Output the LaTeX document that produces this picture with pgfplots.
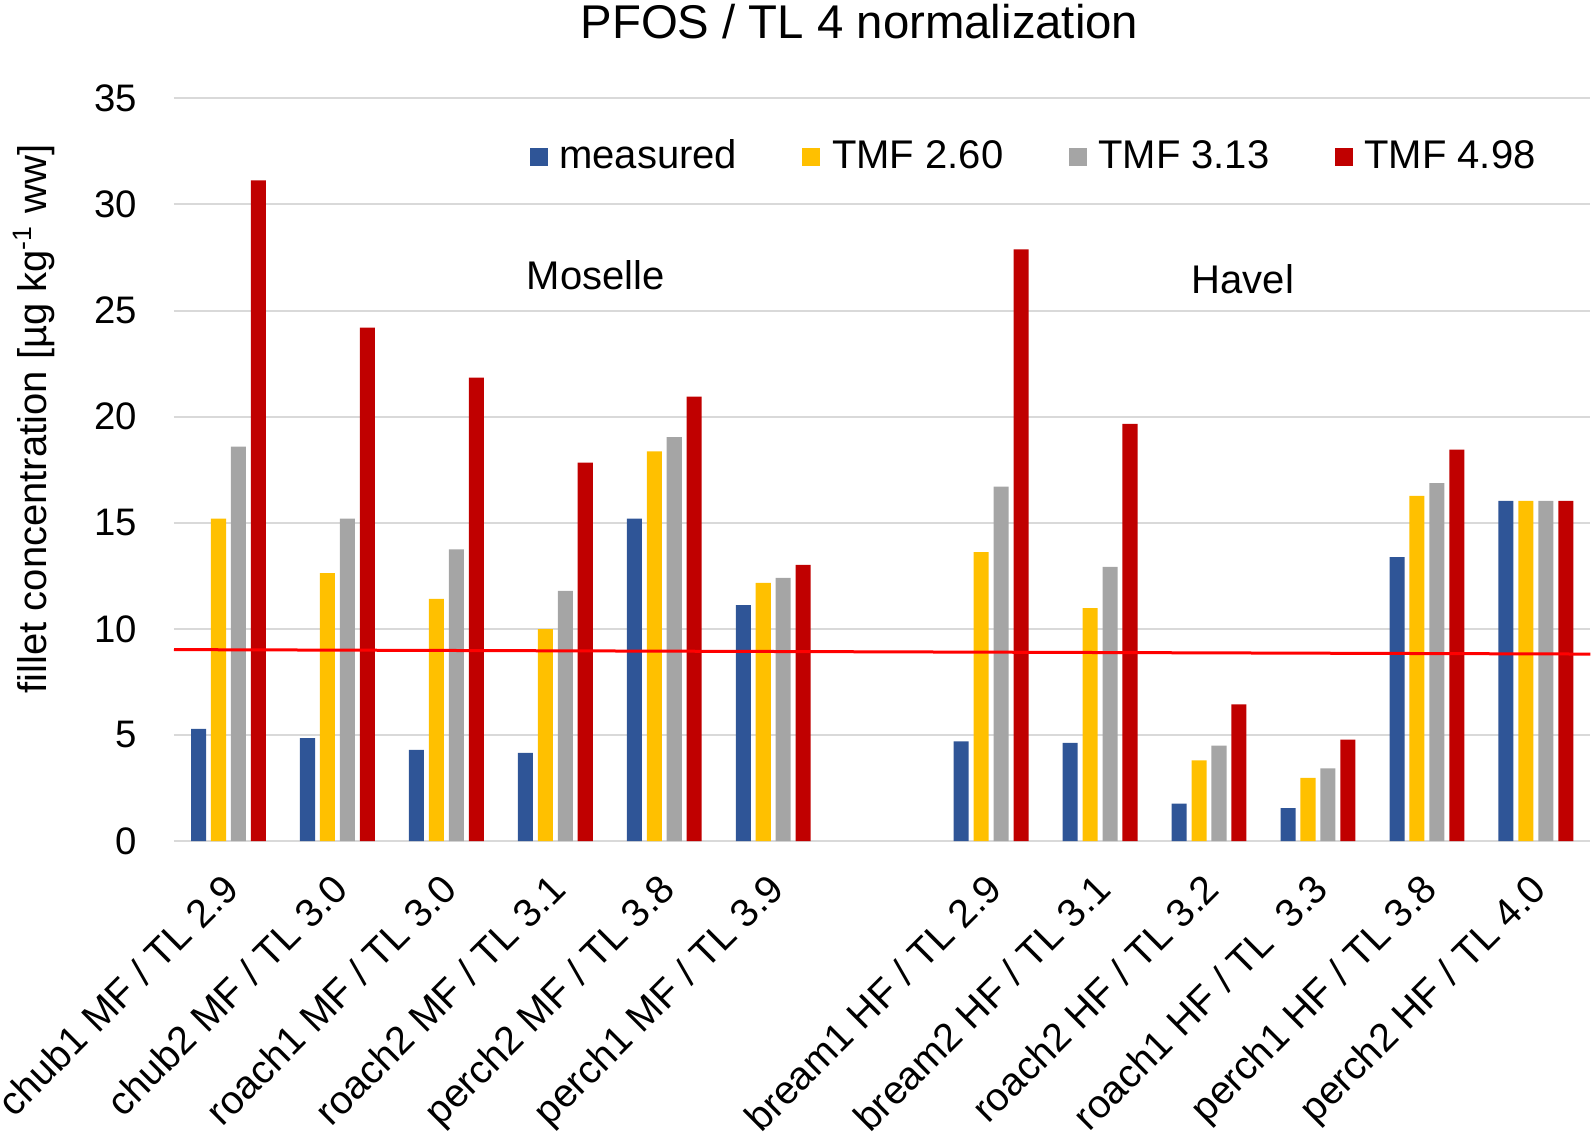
\documentclass[border=0pt]{standalone}
\usepackage{fontspec}
\setmainfont{Liberation Sans}
\usepackage{pgfplots}
\pgfplotsset{compat=1.18}
\definecolor{cblue}{HTML}{2F5597}
\definecolor{cyel}{HTML}{FFC000}
\definecolor{cgray}{HTML}{A5A5A5}
\definecolor{cred}{HTML}{C00000}
\definecolor{gridc}{HTML}{D9D9D9}
\newcommand{\fs}{\fontsize{11.5}{13.5}\selectfont}
\newcommand{\fl}{\fontsize{12}{14}\selectfont}
\begin{document}
\begin{tikzpicture}
\begin{axis}[
  scale only axis, width=424.9pt, height=222.8pt,
  xmin=-0.5, xmax=12.5, ymin=0, ymax=35,
  ytick={0,5,...,35},
  xtick={0,...,12},
  xticklabels={chub1 MF / TL 2.9, chub2 MF / TL 3.0, roach1 MF / TL 3.0, roach2 MF / TL 3.1, perch2 MF / TL 3.8, perch1 MF / TL 3.9, {}, bream1 HF / TL 2.9, bream2 HF / TL 3.1, roach2 HF / TL 3.2, roach1 HF / TL\ \ 3.3, perch1 HF / TL 3.8, perch2 HF / TL 4.0},
  axis line style={draw=none},
  major tick length=0pt,
  ymajorgrids, grid style={gridc, line width=0.6pt},
  /pgf/number format/assume math mode=true,
  yticklabel style={font=\fs, anchor=east, inner sep=0pt, xshift=-10.9pt},
  xticklabel style={font=\fontsize{11.85}{14}\selectfont, xshift=3.9pt, yshift=-15pt, rotate=45, anchor=base east, inner sep=0pt},
  title={PFOS / TL 4 normalization},
  title style={at={(axis description cs:0.484,1.081)}, anchor=base, yshift=-6pt, font=\fontsize{14.2}{17}\selectfont, inner sep=0pt},
  ylabel={fillet concentration [µg kg\textsuperscript{-1} ww]},
  ylabel style={at={(axis description cs:-0.0988,0.5682)}, anchor=center, inner sep=0pt, font=\fl},
  legend columns=4,
  legend image code/.code={\fill[#1] (0pt,-2.7pt) rectangle (5.4pt,2.7pt);},
  legend style={draw=none, fill=none, at={(axis description cs:0.2506,0.921)}, anchor=west, inner xsep=0pt, inner ysep=0pt, font=\fl, /tikz/every odd column/.append style={column sep=1.5pt}, /tikz/every even column/.append style={column sep=17.6pt}},
  legend cell align=left,
]
\addplot[ybar, bar width=0.138, bar shift=-0.2745, fill=cblue, draw=none] coordinates {
(0,5.29) (1,4.85) (2,4.30) (3,4.15) (4,15.19) (5,11.12) (7,4.70) (8,4.62) (9,1.76) (10,1.55) (11,13.38) (12,16.03)};
\addplot[ybar, bar width=0.138, bar shift=-0.0915, fill=cyel, draw=none] coordinates {
(0,15.19) (1,12.63) (2,11.41) (3,9.99) (4,18.36) (5,12.17) (7,13.61) (8,10.97) (9,3.80) (10,2.98) (11,16.26) (12,16.03)};
\addplot[ybar, bar width=0.138, bar shift=0.0915, fill=cgray, draw=none] coordinates {
(0,18.59) (1,15.19) (2,13.74) (3,11.79) (4,19.03) (5,12.40) (7,16.70) (8,12.92) (9,4.49) (10,3.42) (11,16.87) (12,16.03)};
\addplot[ybar, bar width=0.138, bar shift=0.2745, fill=cred, draw=none] coordinates {
(0,31.13) (1,24.19) (2,21.84) (3,17.83) (4,20.94) (5,13.01) (7,27.88) (8,19.66) (9,6.44) (10,4.78) (11,18.44) (12,16.03)};
\legend{measured, TMF 2.60, TMF 3.13, TMF 4.98}
\addplot[red, line width=0.9pt, forget plot] coordinates {(-0.5,9.02) (12.5,8.81)};
\node[anchor=base, font=\fl, inner sep=0pt] at (axis cs:3.37,26.0) {Moselle};
\node[anchor=base, font=\fl, inner sep=0pt] at (axis cs:9.31,25.81) {Havel};
\end{axis}
\pgfresetboundingbox
\path[use as bounding box] (-52.2pt,-90.3pt) rectangle (425.7pt,252.3pt);
\end{tikzpicture}
\end{document}
